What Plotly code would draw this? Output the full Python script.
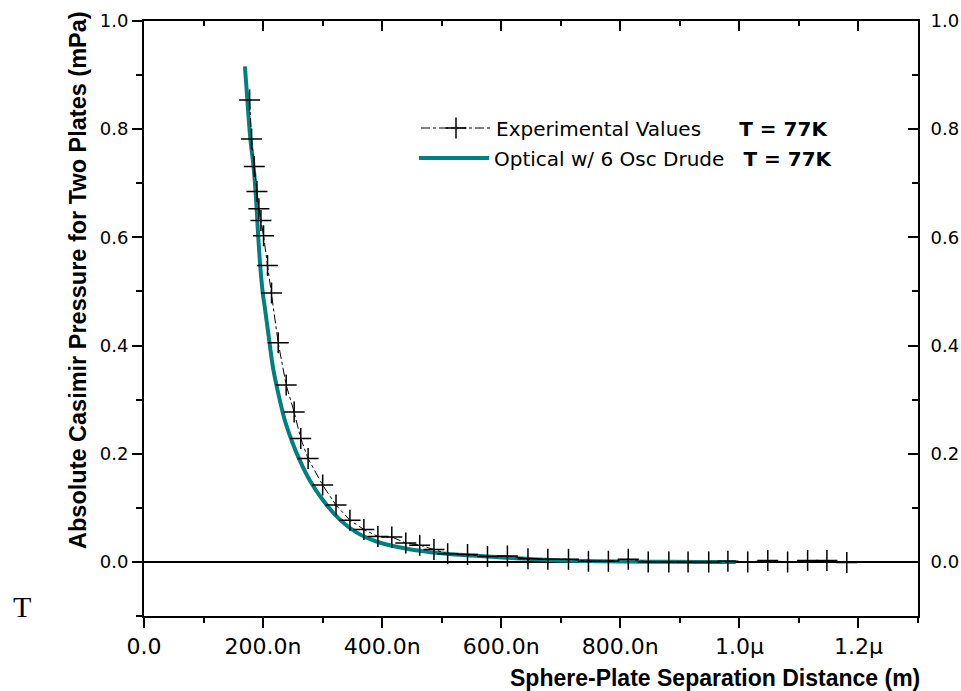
import numpy as np
import plotly.graph_objects as go

# ---------------- data ----------------
# Experimental values: separation (nm) and pressure (mPa)
exp_x_nm = [177.4, 180.7, 185.2, 189.7, 193.0, 196.4, 200.8, 207.5, 214.2, 225.4,
            238.8, 252.2, 263.3, 275.6, 300.1, 322.5, 345.9, 369.3, 392.8, 416.2,
            439.7, 463.1, 487.0, 510.0, 543.4, 576.9, 610.4, 644.9, 678.3, 713.0,
            746.5, 780.0, 813.4, 846.9, 881.5, 913.8, 948.5, 980.7, 1014.0, 1047.7,
            1081.0, 1114.6, 1147.0, 1180.4]
exp_y = [0.854, 0.782, 0.731, 0.685, 0.653, 0.631, 0.603, 0.548, 0.497, 0.405,
         0.327, 0.277, 0.228, 0.191, 0.142, 0.105, 0.077, 0.060, 0.047, 0.046,
         0.035, 0.031, 0.023, 0.015, 0.0135, 0.0098, 0.011, 0.006, 0.005, 0.005,
         0.0013, 0.0013, 0.005, 0.0, 0.0, 0.0, 0.0, 0.001, 0.0, 0.0025,
         0.0, 0.0025, 0.0025, -0.001]

# Optical w/ 6 Osc Drude model curve
opt_x_nm = [169.5, 173.6, 178.6, 184.0, 187.4, 191.9, 195.3, 199.7, 203.0, 208.7,
            216.4, 225.4, 236.5, 249.9, 261.1, 277.8, 300.1, 328.0, 356.0, 389.5,
            428.4, 473.0, 512.0, 596.0, 680.0, 763.0, 850.0, 930.0, 994.0]
opt_y = [0.916, 0.854, 0.782, 0.731, 0.685, 0.601, 0.546, 0.495, 0.470, 0.423,
         0.361, 0.312, 0.262, 0.219, 0.189, 0.152, 0.115, 0.079, 0.055, 0.038,
         0.027, 0.019, 0.0145, 0.0087, 0.0037, 0.0013, 0.0005, 0.0, 0.0]

x_tick_vals_nm = [0, 200, 400, 600, 800, 1000, 1200]
x_tick_text = ["0.0", "200.0n", "400.0n", "600.0n", "800.0n", "1.0\u03bc", "1.2\u03bc"]
y_tick_vals = [0.0, 0.2, 0.4, 0.6, 0.8, 1.0]

exp_name = "Experimental Values" + "\u00a0" * 6 + "<b>T = 77K</b>"
opt_name = "Optical w/ 6 Osc Drude" + "\u00a0" * 3 + "<b>T = 77K</b>"

# ---------------- figure ----------------
nm = 1e-9
TEAL = "#008080"
TICKFONT_X = dict(family="DejaVu Sans", size=22, color="black")
TICKFONT_Y = dict(family="DejaVu Sans", size=18, color="black")

fig = go.Figure()

fig.add_trace(go.Scatter(
    x=np.array(opt_x_nm) * nm, y=opt_y, mode="lines", name=opt_name,
    line=dict(color=TEAL, width=4, shape="spline", smoothing=0.8),
    legend="legend2"))

fig.add_trace(go.Scatter(
    x=np.array(exp_x_nm) * nm, y=exp_y, mode="lines+markers", name=exp_name,
    line=dict(color="black", width=1, dash="dashdot"),
    marker=dict(symbol="cross-thin", size=15, line=dict(color="black", width=1.5)),
    legend="legend"))

# dummy trace to activate mirrored axes (top / right)
fig.add_trace(go.Scatter(x=[None], y=[None], xaxis="x2", yaxis="y2",
                         showlegend=False, hoverinfo="skip"))

x_range = [0, 1.3e-6]
y_range = [-0.1, 1.0]

common_x = dict(range=x_range, tickvals=[v * nm for v in x_tick_vals_nm],
                ticktext=x_tick_text, showgrid=False, zeroline=False,
                showline=True, linecolor="black", linewidth=2, automargin=False,
                tickcolor="black", tickwidth=2, ticklen=10)
common_y = dict(range=y_range, tickvals=y_tick_vals, tickformat=".1f",
                showgrid=False, showline=True, linecolor="black", linewidth=2,
                automargin=False, tickcolor="black", tickwidth=2, ticklen=10)

fig.update_layout(
    width=961, height=691,
    margin=dict(l=144, r=43, t=21, b=75, autoexpand=False),
    paper_bgcolor="white", plot_bgcolor="white",
    font=dict(family="DejaVu Sans", color="black"),
    xaxis=dict(**common_x, ticks="outside", tickfont=TICKFONT_X,
               minor=dict(ticks="outside", ticklen=5, tickwidth=2,
                          tickcolor="black", tick0=0, dtick=1e-7)),
    xaxis2=dict(**common_x, overlaying="x", side="top", matches="x",
                ticks="inside", showticklabels=False,
                minor=dict(ticks="inside", ticklen=5, tickwidth=2,
                           tickcolor="black", tick0=0, dtick=1e-7)),
    yaxis=dict(**common_y, ticks="outside", tickfont=TICKFONT_Y,
               zeroline=True, zerolinecolor="black", zerolinewidth=2,
               minor=dict(ticks="outside", ticklen=6, tickwidth=2,
                          tickcolor="black", tick0=0, dtick=0.1)),
    yaxis2=dict(**common_y, overlaying="y", side="right", matches="y",
                ticks="inside", tickfont=TICKFONT_Y, zeroline=False,
                ticklabelstandoff=7,
                minor=dict(ticks="inside", ticklen=6, tickwidth=2,
                           tickcolor="black", tick0=0, dtick=0.1)),
    legend=dict(x=(416 - 144) / 774, y=(616 - 128) / 595, xanchor="left",
                yanchor="middle", bgcolor="rgba(0,0,0,0)", borderwidth=0,
                itemwidth=70, font=dict(family="DejaVu Sans", size=20, color="black")),
    legend2=dict(x=(414 - 144) / 774, y=(616 - 158) / 595, xanchor="left",
                 yanchor="middle", bgcolor="rgba(0,0,0,0)", borderwidth=0,
                 itemwidth=70, font=dict(family="DejaVu Sans", size=20, color="black")),
    showlegend=True,
)

fig.add_annotation(
    text="<b>Absolute Casimir Pressure for Two Plates (mPa)</b>",
    xref="paper", yref="paper", x=(78 - 144) / 774, y=(616 - 280) / 595,
    xanchor="center", yanchor="middle", textangle=-90, showarrow=False,
    font=dict(family="Liberation Sans", size=23.5, color="black"))

fig.add_annotation(
    text="<b>Sphere-Plate Separation Distance (m)</b>",
    xref="paper", yref="paper", x=(922 - 144) / 774, y=(616 - 678) / 595,
    xanchor="right", yanchor="middle", showarrow=False,
    font=dict(family="Liberation Sans", size=23, color="black"))

fig.add_annotation(
    text="T", xref="paper", yref="paper", x=(22 - 144) / 774, y=(616 - 606) / 595,
    xanchor="center", yanchor="middle", showarrow=False,
    font=dict(family="Liberation Serif", size=30, color="black"))

fig.write_html("out.html")
